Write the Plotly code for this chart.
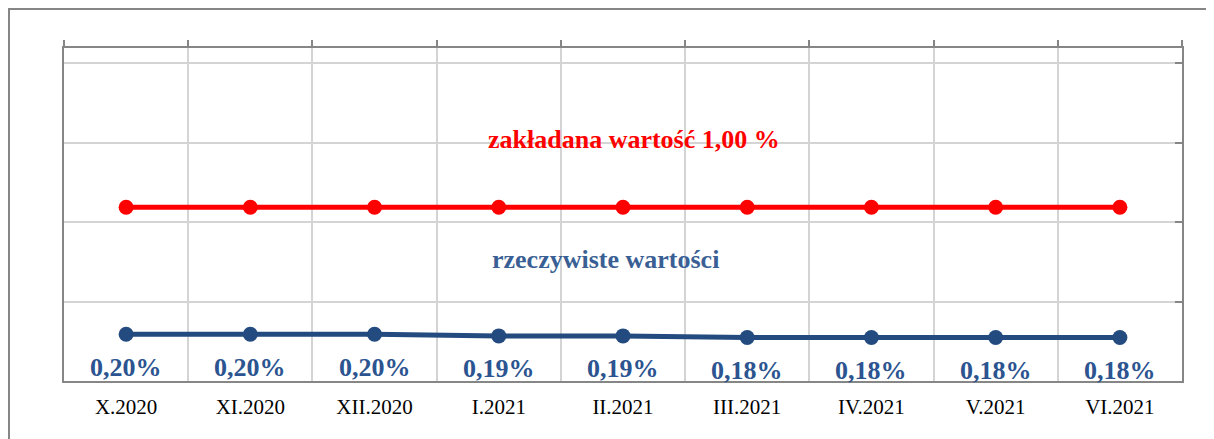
import plotly.graph_objects as go

categories = ["X.2020", "XI.2020", "XII.2020", "I.2021", "II.2021", "III.2021", "IV.2021", "V.2021", "VI.2021"]
actual_values = [0.20, 0.20, 0.20, 0.19, 0.19, 0.18, 0.18, 0.18, 0.18]
target_values = [1.00, 1.00, 1.00, 1.00, 1.00, 1.00, 1.00, 1.00, 1.00]
target_label = "zakładana wartość 1,00 %"
actual_label = "rzeczywiste wartości"

BLUE = "#234B7F"
BLUE_TXT = "#2B5490"
BLUE_TITLE = "#3A5F94"
RED = "#FF0000"
GRID = "#D4D4D4"
AXIS = "#868686"
SERIF = "Liberation Serif, Times New Roman, serif"

YR = [-0.094, 2.0035]
L, R, T, B = 56, 40, 40, 66
W, H = 1214, 439
PW, PH = W - L - R, H - T - B

fig = go.Figure()
fig.add_trace(go.Scatter(x=categories, y=target_values, mode="lines+markers",
                         line=dict(color=RED, width=5), marker=dict(color=RED, size=15),
                         hoverinfo="skip", showlegend=False))
fig.add_trace(go.Scatter(x=categories, y=actual_values, mode="lines+markers",
                         line=dict(color=BLUE, width=5), marker=dict(color=BLUE, size=15),
                         hoverinfo="skip", showlegend=False))

n = len(categories)
annotations = []
for c, v in zip(categories, actual_values):
    annotations.append(dict(x=c, y=v, xref="x", yref="y",
                            text="<b>" + f"{v:.2f}".replace(".", ",") + "%</b>",
                            showarrow=False, yanchor="middle", yshift=-33,
                            font=dict(family=SERIF, size=26, color=BLUE_TXT)))
annotations.append(dict(x=0.510, y=0.724, xref="paper", yref="paper", text=f"<b>{target_label}</b>",
                        showarrow=False, xanchor="center", yanchor="middle",
                        font=dict(family=SERIF, size=26, color=RED)))
annotations.append(dict(x=0.4843, y=0.364, xref="paper", yref="paper", text=f"<b>{actual_label}</b>",
                        showarrow=False, xanchor="center", yanchor="middle",
                        font=dict(family=SERIF, size=26, color=BLUE_TITLE)))

fx0 = -L / PW
fy1 = 1 + T / PH
fig.update_layout(
    width=W, height=H,
    margin=dict(l=L, r=R, t=T, b=B, pad=0),
    paper_bgcolor="white", plot_bgcolor="white",
    annotations=annotations,
    xaxis=dict(type="category", tickson="boundaries", showgrid=True, gridcolor=GRID, gridwidth=2,
               showline=True, linecolor=AXIS, linewidth=2, ticks="", range=[-0.5, n - 0.5],
               ticklabelstandoff=6,
               tickfont=dict(family=SERIF, size=21, color="black"), zeroline=False),
    xaxis2=dict(overlaying="x", side="top", anchor="y", range=[-0.5, n - 0.5],
                tickmode="array", tickvals=[i - 0.5 for i in range(n + 1)],
                ticks="outside", ticklen=6, tickwidth=2, tickcolor=AXIS,
                showticklabels=False, showgrid=False, zeroline=False,
                showline=True, linecolor=AXIS, linewidth=2),
    yaxis=dict(range=YR, tick0=YR[0], dtick=0.5, showgrid=True, gridcolor=GRID, gridwidth=2,
               showticklabels=False, ticks="", showline=True, linecolor=AXIS, linewidth=2,
               zeroline=False),
    yaxis2=dict(overlaying="y", side="right", anchor="x", range=YR, tick0=YR[0], dtick=0.5,
                ticks="inside", ticklen=7, tickwidth=2, tickcolor=AXIS, showticklabels=False,
                showgrid=False, zeroline=False, showline=True, linecolor=AXIS, linewidth=2),
    shapes=[
        dict(type="line", xref="paper", yref="paper", x0=fx0, x1=1.2, y0=fy1 - 1 / PH, y1=fy1 - 1 / PH,
             line=dict(color=AXIS, width=2)),
        dict(type="line", xref="paper", yref="paper", x0=fx0 + 1 / PW, x1=fx0 + 1 / PW, y0=fy1, y1=-0.3,
             line=dict(color=AXIS, width=2)),
    ],
)
fig.add_trace(go.Scatter(x=[-0.5, n - 0.5], y=[None, None], xaxis="x2", yaxis="y2",
                         mode="lines", hoverinfo="skip", showlegend=False))
fig.write_html("out.html")
